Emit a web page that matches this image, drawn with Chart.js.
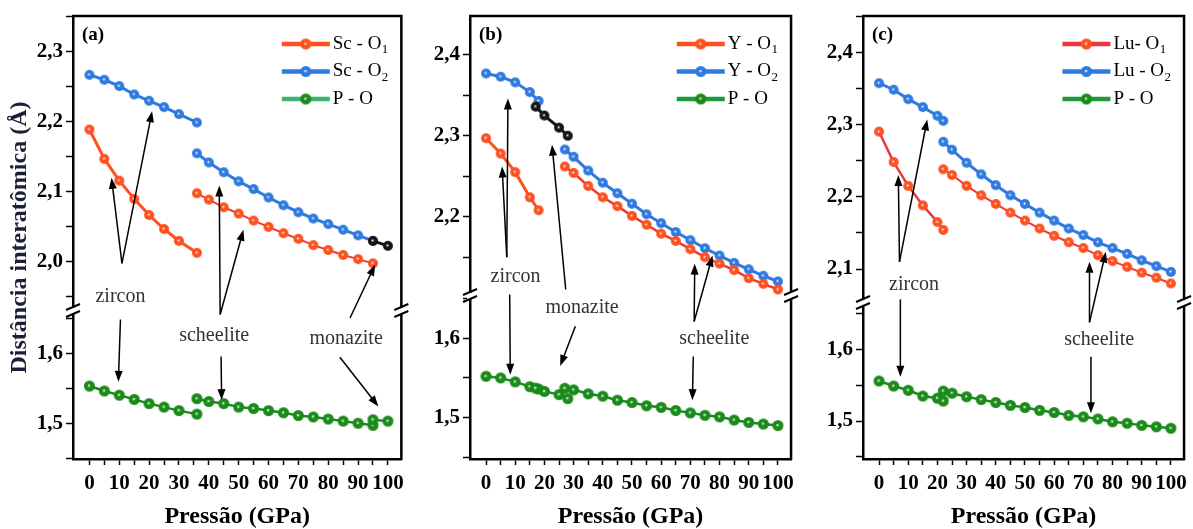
<!DOCTYPE html>
<html>
<head>
<meta charset="utf-8">
<script src="https://cdn.jsdelivr.net/npm/chart.js@4.4.1/dist/chart.umd.min.js"></script>
<style>
  body { margin: 0; background: #fff; width: 1193px; height: 529px; overflow: hidden; position: relative; }
  canvas { position: absolute; top: 0; }
</style>
</head>
<body>
<canvas id="graficoA" width="410" height="529" style="left:0px"></canvas>
<canvas id="graficoB" width="400" height="529" style="left:400px"></canvas>
<canvas id="graficoC" width="400" height="529" style="left:793px"></canvas>
<script>
// eixo x (GPa) - rotulos principais
const xRotulos = [0, 10, 20, 30, 40, 50, 60, 70, 80, 90, 100];

// (a) ScPO4
const aZirP = [0, 5, 10, 15, 20, 25, 30, 36];
const aZirO1 = [2.189, 2.147, 2.116, 2.090, 2.067, 2.047, 2.030, 2.013];
const aZirO2 = [2.267, 2.260, 2.251, 2.239, 2.230, 2.221, 2.211, 2.199];
const aZirPO = [1.553, 1.546, 1.540, 1.534, 1.528, 1.523, 1.518, 1.513];
const aSchP = [36, 40, 45, 50, 55, 60, 65, 70, 75, 80, 85, 90, 95];
const aSchO1 = [2.098, 2.089, 2.078, 2.069, 2.059, 2.050, 2.041, 2.033, 2.024, 2.017, 2.010, 2.004, 1.998];
const aSchO2 = [2.155, 2.142, 2.128, 2.115, 2.104, 2.092, 2.081, 2.071, 2.062, 2.054, 2.046, 2.038, 2.030];
const aSchPO = [1.535, 1.531, 1.528, 1.523, 1.521, 1.518, 1.515, 1.511, 1.509, 1.506, 1.503, 1.500, 1.497];
const aMonP = [95, 100];
const aMonO2 = [2.030, 2.023];
const aMonPO = [1.505, 1.503];

// (b) YPO4
const bZirP = [0, 5, 10, 15, 18];
const bZirO1 = [2.297, 2.278, 2.255, 2.224, 2.208];
const bZirO2 = [2.377, 2.373, 2.366, 2.354, 2.343];
const bZirPO = [1.552, 1.550, 1.545, 1.539, 1.536];
const bMonP = [17, 20, 25, 28];
const bMonO2 = [2.336, 2.325, 2.310, 2.300];
const bMonPO = [1.537, 1.533, 1.529, 1.524];
const bSchP = [27, 30, 35, 40, 45, 50, 55, 60, 65, 70, 75, 80, 85, 90, 95, 100];
const bSchO1 = [2.262, 2.254, 2.238, 2.224, 2.213, 2.201, 2.190, 2.179, 2.170, 2.160, 2.150, 2.142, 2.134, 2.124, 2.117, 2.110];
const bSchO2 = [2.283, 2.274, 2.257, 2.242, 2.229, 2.216, 2.203, 2.192, 2.181, 2.171, 2.161, 2.152, 2.143, 2.135, 2.127, 2.120];
const bSchPO = [1.537, 1.535, 1.530, 1.527, 1.522, 1.519, 1.515, 1.513, 1.509, 1.506, 1.503, 1.501, 1.497, 1.494, 1.492, 1.490];

// (c) LuPO4
const cZirP = [0, 5, 10, 15, 20, 22];
const cZirO1 = [2.290, 2.248, 2.215, 2.188, 2.165, 2.154];
const cZirO2 = [2.357, 2.348, 2.335, 2.324, 2.312, 2.305];
const cZirPO = [1.556, 1.549, 1.543, 1.535, 1.532, 1.528];
const cSchP = [22, 25, 30, 35, 40, 45, 50, 55, 60, 65, 70, 75, 80, 85, 90, 95, 100];
const cSchO1 = [2.238, 2.230, 2.215, 2.202, 2.190, 2.178, 2.167, 2.156, 2.146, 2.137, 2.129, 2.119, 2.111, 2.103, 2.095, 2.088, 2.080];
const cSchO2 = [2.276, 2.265, 2.247, 2.231, 2.216, 2.202, 2.190, 2.178, 2.167, 2.156, 2.147, 2.137, 2.129, 2.121, 2.112, 2.104, 2.096];
const cSchPO = [1.542, 1.539, 1.534, 1.530, 1.526, 1.522, 1.519, 1.515, 1.512, 1.508, 1.506, 1.503, 1.499, 1.497, 1.494, 1.492, 1.490];

const serif = "'Liberation Serif', 'Times New Roman', serif";
const laranja = '#ff5020', azul = '#2f7ae0', verde = '#1a8a1a', preto = '#151515';

function bola(cor, r) {
  const c = document.createElement('canvas');
  const s = Math.ceil(r * 2 + 2);
  c.width = s; c.height = s;
  const g = c.getContext('2d');
  const grad = g.createRadialGradient(s / 2 - 0.5, s / 2 - 0.5, 0.3, s / 2, s / 2, r);
  grad.addColorStop(0, '#f4f4f4');
  grad.addColorStop(0.3, cor);
  grad.addColorStop(1, cor);
  g.fillStyle = grad;
  g.beginPath(); g.arc(s / 2, s / 2, r, 0, Math.PI * 2); g.fill();
  return c;
}

function serie(xs, ys, eixo, linha, ponto, largura, raio) {
  return {
    data: xs.map((x, i) => ({ x: x, y: ys[i] })),
    yAxisID: eixo,
    borderColor: linha,
    borderWidth: largura,
    pointStyle: bola(ponto, raio || 5),
    pointRadius: 5,
    showLine: true,
    tension: 0
  };
}

function eixoY(min, max, peso, largura) {
  return {
    type: 'linear', position: 'left', stack: 'y', stackWeight: peso,
    min: min, max: max,
    afterFit: s => { s.width = largura; },
    // marcas a cada 0,05, rotulo a cada 0,1
    afterBuildTicks: s => {
      const t = [];
      for (let k = Math.ceil(s.min * 20 - 1e-9); k <= Math.floor(s.max * 20 + 1e-9); k++) t.push({ value: k / 20 });
      s.ticks = t;
    },
    grid: { drawOnChartArea: false, tickLength: 7, tickColor: '#000', tickWidth: 1.5 },
    border: { color: '#000', width: 2.5 },
    ticks: {
      autoSkip: false, padding: 3, color: '#000',
      font: { family: serif, size: 21, weight: 'bold' },
      callback: v => Math.abs(v * 10 - Math.round(v * 10)) < 1e-6 ? v.toFixed(1).replace('.', ',') : ''
    }
  };
}

function seta(ctx, x1, y1, x2, y2) {
  const ang = Math.atan2(y2 - y1, x2 - x1), L = 11, W = 4;
  ctx.beginPath();
  ctx.moveTo(x1, y1);
  ctx.lineTo(x2 - Math.cos(ang) * L * 0.8, y2 - Math.sin(ang) * L * 0.8);
  ctx.stroke();
  ctx.beginPath();
  ctx.moveTo(x2, y2);
  ctx.lineTo(x2 - L * Math.cos(ang) + W * Math.sin(ang), y2 - L * Math.sin(ang) - W * Math.cos(ang));
  ctx.lineTo(x2 - L * Math.cos(ang) - W * Math.sin(ang), y2 - L * Math.sin(ang) + W * Math.cos(ang));
  ctx.closePath();
  ctx.fill();
}

function enfeites(p) {
  return {
    id: 'enfeites',
    afterDraw(chart) {
      const ctx = chart.ctx, a = chart.chartArea;
      const yT = chart.scales.yTop, yB = chart.scales.yBot, xs = chart.scales.x;
      const py = v => v > 1.8 ? yT.getPixelForValue(v) : yB.getPixelForValue(v);
      const quebra = yT.bottom;
      ctx.save();

      // moldura e quebra do eixo
      ctx.strokeStyle = '#000';
      ctx.lineWidth = 2.5;
      ctx.beginPath();
      ctx.moveTo(a.left - 1, a.top); ctx.lineTo(a.right, a.top); ctx.lineTo(a.right, a.bottom + 1);
      ctx.stroke();
      for (const bx of [a.left, a.right]) {
        ctx.fillStyle = '#fff';
        ctx.fillRect(bx - 3, quebra - 3, 6, 6);
        ctx.lineWidth = 2;
        ctx.beginPath();
        ctx.moveTo(bx - 7, quebra - 1); ctx.lineTo(bx + 7, quebra - 7);
        ctx.moveTo(bx - 7, quebra + 6); ctx.lineTo(bx + 7, quebra);
        ctx.stroke();
      }

      // setas e textos
      ctx.strokeStyle = '#000';
      ctx.fillStyle = '#000';
      ctx.lineWidth = 1.5;
      p.setas.forEach(s => seta(ctx, xs.getPixelForValue(s[0]), py(s[1]), xs.getPixelForValue(s[2]), py(s[3])));
      ctx.fillStyle = '#333';
      ctx.font = '20px ' + serif;
      ctx.textAlign = 'center';
      ctx.textBaseline = 'middle';
      p.textos.forEach(t => ctx.fillText(t[2], xs.getPixelForValue(t[0]), py(t[1])));

      // rotulo do painel
      ctx.fillStyle = '#000';
      ctx.font = 'bold 19px ' + serif;
      ctx.textAlign = 'left';
      ctx.fillText(p.rotulo, a.left + 9, a.top + 19);

      // legenda
      ctx.font = '19px ' + serif;
      let maior = 0;
      p.legenda.forEach(l => { maior = Math.max(maior, ctx.measureText(l.t).width + (l.s ? 7 : 0)); });
      const x0 = a.right - 12 - maior - 52;
      p.legenda.forEach((l, i) => {
        const y = a.top + 28 + i * 27.5;
        ctx.strokeStyle = l.linha;
        ctx.lineWidth = 4.5;
        ctx.beginPath(); ctx.moveTo(x0, y); ctx.lineTo(x0 + 48, y); ctx.stroke();
        const b = bola(l.ponto, 5.5);
        ctx.drawImage(b, x0 + 24 - b.width / 2, y - b.height / 2);
        ctx.fillStyle = '#000';
        ctx.font = '19px ' + serif;
        ctx.fillText(l.t, x0 + 51, y);
        if (l.s) {
          const w = ctx.measureText(l.t).width;
          ctx.font = '13px ' + serif;
          ctx.fillText(l.s, x0 + 51 + w + 0.5, y + 6);
        }
      });

      // titulo do eixo y
      if (p.tituloY) {
        ctx.translate(20, (a.top + a.bottom) / 2);
        ctx.rotate(-Math.PI / 2);
        ctx.fillStyle = '#1c1f38';
        ctx.font = 'bold 24px ' + serif;
        ctx.textAlign = 'center';
        ctx.fillText('Distância interatômica (Å)', 0, 0);
      }
      ctx.restore();
    }
  };
}

function painel(id, p) {
  new Chart(document.getElementById(id), {
    type: 'line',
    data: { datasets: p.series },
    options: {
      responsive: false,
      animation: false,
      layout: { padding: { top: 16, right: p.dir, left: 0, bottom: 0 } },
      plugins: { legend: { display: false }, tooltip: { enabled: false } },
      scales: {
        x: {
          type: 'linear', position: 'bottom', min: -5.5, max: 104.5,
          afterFit: s => { s.height = 70; },
          afterBuildTicks: s => {
            const t = [];
            for (let v = 0; v <= 100; v += 5) t.push({ value: v });
            s.ticks = t;
          },
          grid: { drawOnChartArea: false, tickLength: 6, tickColor: '#000', tickWidth: 1.5 },
          border: { color: '#000', width: 2.5 },
          ticks: {
            autoSkip: false, maxRotation: 0, padding: 6, color: '#000',
            font: { family: serif, size: 21, weight: 'bold' },
            callback: v => xRotulos.includes(v) ? String(v) : ''
          },
          title: { display: true, text: 'Pressão (GPa)', color: '#000', padding: 0, font: { family: serif, size: 24, weight: 'bold', lineHeight: 1 } }
        },
        yBot: eixoY(p.bot[0], p.bot[1], p.bot[2], p.larg),
        yTop: eixoY(p.top[0], p.top[1], p.top[2], p.larg)
      }
    },
    plugins: [enfeites(p)]
  });
}

painel('graficoA', {
  larg: 73, dir: 7, rotulo: '(a)', tituloY: true,
  top: [1.93, 2.351, 295], bot: [1.449, 1.66, 148],
  series: [
    serie(aMonP, aMonO2, 'yTop', preto, preto, 3),
    serie(aZirP, aZirO1, 'yTop', laranja, laranja, 3),
    serie(aSchP, aSchO1, 'yTop', '#ee3a30', laranja, 2),
    serie(aZirP, aZirO2, 'yTop', azul, azul, 3),
    serie(aSchP, aSchO2, 'yTop', azul, azul, 3),
    serie(aMonP, aMonPO, 'yBot', verde, verde, 2.5, 5.5),
    serie(aZirP, aZirPO, 'yBot', verde, verde, 2.5, 5.5),
    serie(aSchP, aSchPO, 'yBot', verde, verde, 2.5, 5.5)
  ],
  legenda: [
    { t: 'Sc - O', s: '1', linha: laranja, ponto: laranja },
    { t: 'Sc - O', s: '2', linha: azul, ponto: azul },
    { t: 'P - O', s: '', linha: '#3cb371', ponto: verde }
  ],
  setas: [
    [10.9, 1.998, 7.4, 2.120], [10.9, 1.998, 21.0, 2.215], [10.4, 1.648, 9.7, 1.559],
    [43.8, 1.655, 43.5, 2.109], [43.8, 1.655, 51.6, 2.046], [44.1, 1.595, 44.3, 1.533],
    [87.3, 1.650, 95.7, 1.996], [83.9, 1.594, 96.8, 1.524]
  ],
  textos: [[10.4, 1.950, 'zircon'], [41.8, 1.625, 'scheelite'], [86, 1.620, 'monazite']]
});

painel('graficoB', {
  larg: 70, dir: 4, rotulo: '(b)', tituloY: false,
  top: [2.102, 2.448, 280], bot: [1.448, 1.653, 163],
  series: [
    serie(bMonP, bMonO2, 'yTop', preto, preto, 3),
    serie(bZirP, bZirO1, 'yTop', laranja, laranja, 3),
    serie(bSchP, bSchO1, 'yTop', '#ee3a30', laranja, 2.5),
    serie(bZirP, bZirO2, 'yTop', azul, azul, 3),
    serie(bSchP, bSchO2, 'yTop', azul, azul, 3),
    serie(bMonP, bMonPO, 'yBot', verde, verde, 2.5, 5.5),
    serie(bZirP, bZirPO, 'yBot', verde, verde, 2.5, 5.5),
    serie(bSchP, bSchPO, 'yBot', verde, verde, 2.5, 5.5)
  ],
  legenda: [
    { t: 'Y - O', s: '1', linha: laranja, ponto: laranja },
    { t: 'Y - O', s: '2', linha: azul, ponto: azul },
    { t: 'P - O', s: '', linha: '#1f9a3a', ponto: verde }
  ],
  setas: [
    [7.1, 2.150, 5.5, 2.262], [7.1, 2.150, 7.5, 2.346], [8.1, 2.104, 8.3, 1.554],
    [27.3, 2.110, 22.6, 2.289], [30.6, 1.615, 25.4, 1.565],
    [71.3, 1.621, 71.5, 2.142], [71.3, 1.621, 77.6, 2.152], [71.0, 1.577, 70.7, 1.522]
  ],
  textos: [[10.1, 2.126, 'zircon'], [32.9, 1.638, 'monazite'], [78.2, 1.599, 'scheelite']]
});

painel('graficoC', {
  larg: 70, dir: 3, rotulo: '(c)', tituloY: false,
  top: [2.053, 2.450, 287], bot: [1.447, 1.665, 156],
  series: [
    serie(cZirP, cZirO1, 'yTop', '#e8383d', laranja, 2.5),
    serie(cSchP, cSchO1, 'yTop', '#ee3a30', laranja, 2),
    serie(cZirP, cZirO2, 'yTop', azul, azul, 3),
    serie(cSchP, cSchO2, 'yTop', azul, azul, 3),
    serie(cZirP, cZirPO, 'yBot', verde, verde, 2.5, 5.5),
    serie(cSchP, cSchPO, 'yBot', verde, verde, 2.5, 5.5)
  ],
  legenda: [
    { t: 'Lu- O', s: '1', linha: '#e8383d', ponto: laranja },
    { t: 'Lu - O', s: '2', linha: azul, ponto: azul },
    { t: 'P - O', s: '', linha: '#1f9a3a', ponto: verde }
  ],
  setas: [
    [7.0, 2.110, 6.6, 2.230], [7.0, 2.110, 16.5, 2.307], [7.3, 2.058, 7.3, 1.562],
    [72.1, 1.638, 72.1, 2.110], [72.1, 1.638, 77.7, 2.124], [72.6, 1.590, 72.6, 1.511]
  ],
  textos: [[12.0, 2.078, 'zircon'], [75.4, 1.613, 'scheelite']]
});
</script>
</body>
</html>
